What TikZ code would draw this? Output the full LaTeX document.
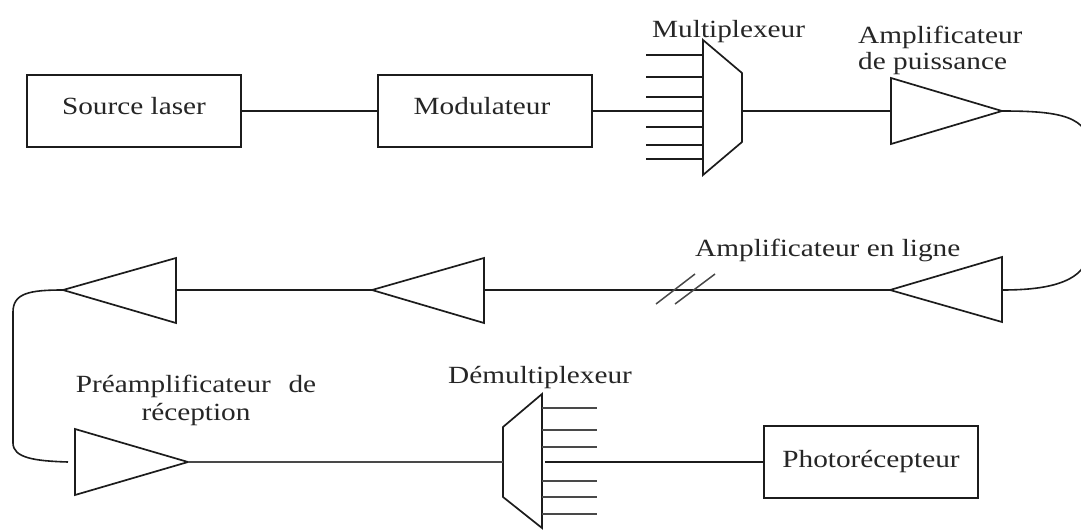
\documentclass[tikz,border=0pt]{standalone}
\usepackage{fontspec}
\setmainfont{Liberation Serif}
\definecolor{linec}{HTML}{1C1C1C}
\definecolor{textc}{HTML}{262626}
\newcommand\Wd[1]{\scalebox{1.22}[1.03]{#1}}
\tikzset{
  box/.style={draw=linec, line width=2pt, minimum width=214pt, minimum height=72pt, inner sep=0pt},
  wire/.style={draw=linec, line width=1.6pt},
  thin wire/.style={draw=linec!80, line width=1.5pt},
  ampshape/.style={draw=linec, line width=1.7pt, line join=miter},
  lbl/.style={text=textc, inner sep=0pt, font=\fontsize{24}{26}\selectfont}
}
\begin{document}
\begin{tikzpicture}[x=1pt,y=-1pt]
\useasboundingbox (0,0) rectangle (1081,530);
\clip (0,0) rectangle (1081,530);
\fill[white] (0,0) rectangle (1081,530);

% ---------- row 1 ----------
\node[box] (src) at (134,111) {};
\node[lbl, anchor=base] (srcT) at (134,114) {\Wd{Source laser}};
\node[box] (mod) at (484.5,111) {};
\node[lbl, anchor=base] (modT) at (482,114) {\Wd{Modulateur}};
\draw[wire] (src.east) -- (mod.west);

% multiplexer
\coordinate (muxTL) at (703,40);
\coordinate (muxTR) at (742,73);
\coordinate (muxBR) at (742,142);
\coordinate (muxBL) at (703,175);
\coordinate (muxL) at (703,111);
\coordinate (muxR) at (742,111);
\draw[ampshape] (muxTL) -- (muxTR) -- (muxBR) -- (muxBL) -- cycle;
\draw[wire] (mod.east) -- (muxL);
\foreach \yy in {55,77,97,127,145,159}
  \draw[wire] (646,\yy) -- (703,\yy);
\node[lbl, anchor=base west] (muxT) at (652,37) {\Wd{Multiplexeur}};

% power amplifier
\coordinate (ampPt) at (891,78);
\coordinate (ampPb) at (891,144);
\coordinate (ampPin) at (891,111);
\coordinate (ampPout) at (1002,111);
\draw[ampshape] (ampPt) -- (ampPout) -- (ampPb) -- cycle;
\draw[wire] (muxR) -- (ampPin);
\node[lbl, anchor=base west] (ampPT) at (858,43)
  {\Wd{\begin{tabular}[t]{@{}l@{}}Amplificateur\\de puissance\end{tabular}}};

% ---------- row 2 ----------
\coordinate (ampLt) at (1002,257);
\coordinate (ampLb) at (1002,322);
\coordinate (ampLin) at (1002,290);
\coordinate (ampLout) at (890,290);
\draw[ampshape] (ampLt) -- (ampLout) -- (ampLb) -- cycle;
\draw[wire] (ampPout) .. controls (1060,111) and (1090,116) .. (1090,150)
  -- (1090,245) .. controls (1090,282) and (1050,290) .. (ampLin);
\node[lbl, anchor=base west] (ampLT) at (695,256) {\Wd{Amplificateur en ligne}};

\coordinate (ampBt) at (484,258);
\coordinate (ampBb) at (484,323);
\coordinate (ampBin) at (484,290);
\coordinate (ampBout) at (372,290);
\draw[ampshape] (ampBt) -- (ampBout) -- (ampBb) -- cycle;
\draw[wire] (ampLout) -- (ampBin);
% break mark
\draw[thin wire] (656,304) -- (695,274);
\draw[thin wire] (675,304) -- (715,274);

\coordinate (ampAt) at (176,258);
\coordinate (ampAb) at (176,323);
\coordinate (ampAin) at (176,290);
\coordinate (ampAout) at (63,290);
\draw[ampshape] (ampAt) -- (ampAout) -- (ampAb) -- cycle;
\draw[wire] (ampBout) -- (ampAin);

% ---------- row 3 ----------
\coordinate (preT) at (75,429);
\coordinate (preB) at (75,495);
\coordinate (preIn) at (75,462);
\coordinate (preOut) at (188,462);
\draw[ampshape] (preT) -- (preOut) -- (preB) -- cycle;
\draw[wire] (ampAout) .. controls (30,290) and (13,293) .. (13,312)
  -- (13,443) .. controls (13,458) and (35,461) .. ([xshift=-7pt]preIn);
\node[lbl, anchor=base] (preTT) at (196,392)
  {\Wd{\begin{tabular}[t]{@{}c@{}}Préamplificateur\hspace{0.6em}de\\[2pt]réception\end{tabular}}};

% demultiplexer
\coordinate (dmxTL) at (503,427);
\coordinate (dmxTR) at (542,394);
\coordinate (dmxBR) at (542,528);
\coordinate (dmxBL) at (503,497);
\coordinate (dmxL) at (503,462);
\coordinate (dmxR) at (545,462);
\draw[ampshape] (dmxTL) -- (dmxTR) -- (dmxBR) -- (dmxBL) -- cycle;
\draw[thin wire] (preOut) -- (dmxL);
\foreach \yy in {408,430,447,481,497,514}
  \draw[thin wire] (542,\yy) -- (597,\yy);
\node[lbl, anchor=base west] (dmxT) at (448,383) {\Wd{Démultiplexeur}};

\node[box] (pho) at (871,462) {};
\node[lbl, anchor=base] (phoT) at (871,467) {\Wd{Photorécepteur}};
\draw[wire] (dmxR) -- (pho.west);
\end{tikzpicture}
\end{document}
